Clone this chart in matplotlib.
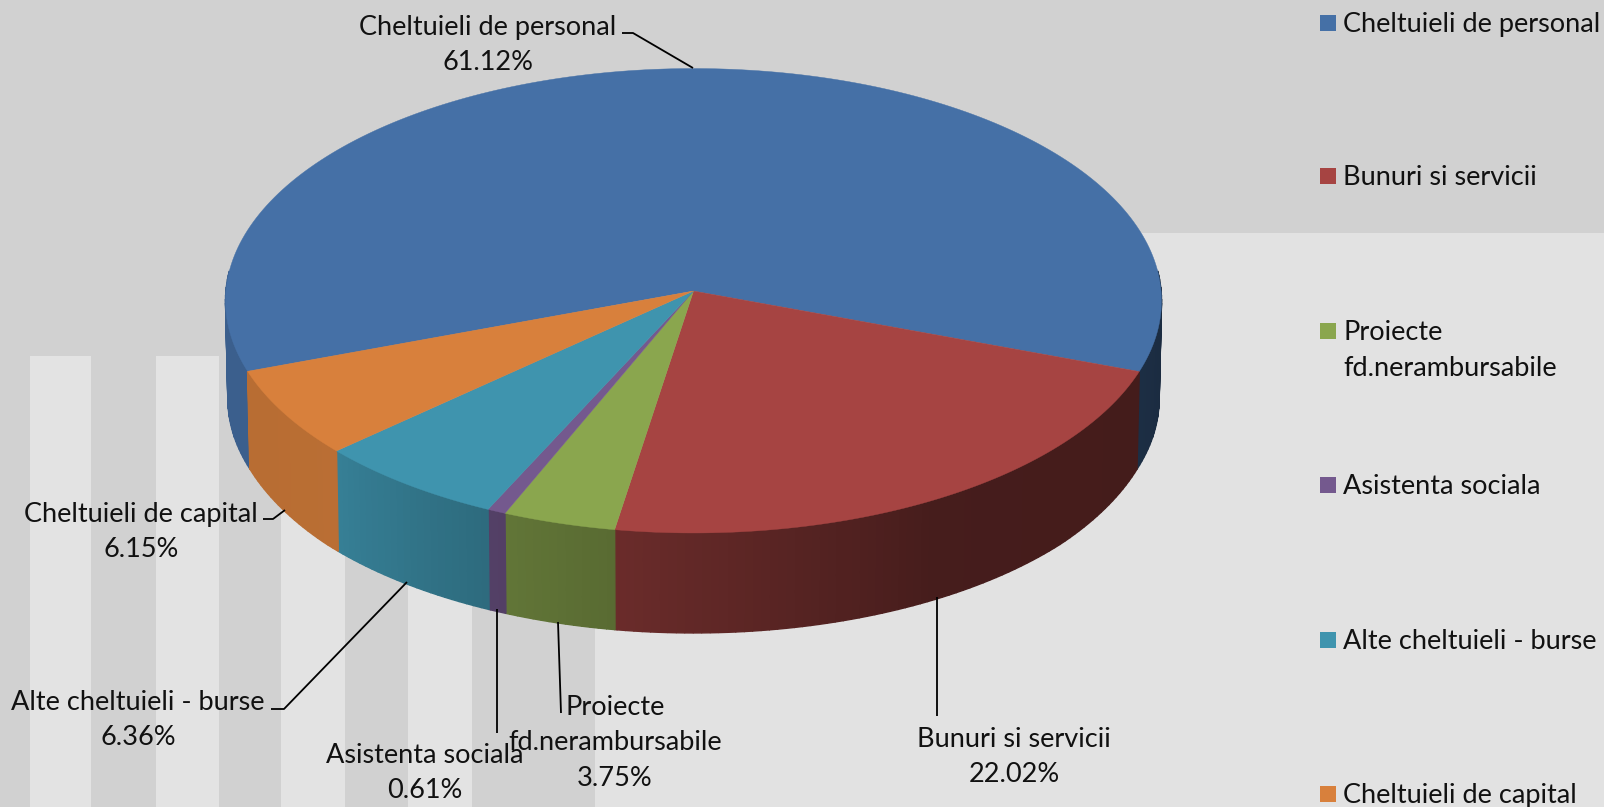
import matplotlib
matplotlib.use('Agg')
import matplotlib.pyplot as plt
from matplotlib.patches import Rectangle
import numpy as np

plt.rcParams['font.family'] = ['Lato', 'DejaVu Sans']

categories = ['Cheltuieli de personal', 'Bunuri si servicii', 'Proiecte\nfd.nerambursabile',
              'Asistenta sociala', 'Alte cheltuieli - burse', 'Cheltuieli de capital']
values = [61.12, 22.02, 3.75, 0.61, 6.36, 6.15]
colors = ['#4570a6', '#a64442', '#8aa64e', '#74598e', '#3f94ae', '#d8803c']

# layout, in pixels of the 1604x807 picture
cx, cy = 693.5, 291
rx, ry = 467.6, 231.8
persp = 0.042
depth = 98
start = -110
fsize = 19.5

label_pos = [(488, 45), (1014, 757), (615, 743), (425, 773), (138, 720), (141, 532)]
leaders = [
    ([622, 633, 693], [33, 33, 68]),
    ([937, 937], [597, 716]),
    ([558, 561], [622, 713]),
    ([497, 497], [609, 733]),
    ([271, 284, 407], [709, 709, 582]),
    ([263, 273, 285], [519, 519, 510]),
]
legend_y = [23, 176, 331, 485, 640, 794]
light_stripes = [(30, 91), (156, 219), (281, 345), (408, 472)]

# how dark the side wall gets going round the pie
shade_t = [90, 110, 150, 189, 205, 228, 250, 275]
shade_f = [0.38, 0.41, 0.42, 0.64, 0.72, 0.86, 0.85, 0.85]


def rim(t, scale=1.0, dy=0):
    t = np.radians(t)
    d = 1 + persp * np.cos(t)
    return cx + scale * rx * np.sin(t) / d, cy + dy - scale * ry * np.cos(t) / d


def base_rim(t):
    # the bottom edge sits a little lower towards the front
    extra = 3.2 * np.clip((-np.cos(np.radians(t)) - 0.34) / 0.3, 0, 1)
    return rim(t, 0.995, depth + extra)


fig = plt.figure(figsize=(16.04, 8.07), dpi=100, facecolor='#d1d1d1')
ax = fig.add_axes([0, 0, 1, 1])
ax.set_xlim(0, 1604)
ax.set_ylim(807, 0)
ax.axis('off')

# background
ax.add_patch(Rectangle((595, 233), 1009, 574, fc='#e2e2e2', ec='none', zorder=0))
ax.add_patch(Rectangle((0, 0), 1604, 233, fc='#d1d1d1', ec='none', zorder=0))
for x0, x1 in light_stripes:
    ax.add_patch(Rectangle((x0, 356), x1 - x0, 451, fc='#e3e3e3', ec='none', zorder=0))

edges = start + np.concatenate([[0], np.cumsum(values)]) * 3.6

# side wall, strip by strip
for i, col in enumerate(colors):
    rgb = np.array(matplotlib.colors.to_rgb(col))
    for a0, a1 in [(edges[i], edges[i + 1]), (edges[i] + 360, edges[i + 1] + 360)]:
        a0, a1 = max(a0, 85), min(a1, 275)
        if a1 <= a0:
            continue
        ts = np.arange(a0, a1 + 1, 1)
        ts[-1] = a1
        for t0, t1 in zip(ts[:-1], ts[1:]):
            x_top, y_top = rim(np.array([t0, t1]))
            x_bot, y_bot = base_rim(np.array([t1, t0]))
            f = np.interp((t0 + t1) / 2, shade_t, shade_f)
            ax.fill(np.r_[x_top, x_bot], np.r_[y_top, y_bot], color=rgb * f, lw=1, zorder=2)

# top face
for i, col in enumerate(colors):
    ts = np.linspace(edges[i], edges[i + 1], 200)
    x, y = rim(ts)
    ax.fill(np.r_[cx, x], np.r_[cy, y], color=col, lw=0.3, zorder=3)

# labels and leader lines
for name, val, pos, line in zip(categories, values, label_pos, leaders):
    ax.plot(line[0], line[1], color='black', lw=1.3, zorder=4, solid_capstyle='butt')
    ax.text(pos[0], pos[1], f'{name}\n{val:.2f}%', ha='center', va='center', fontsize=fsize,
            color='#111111', linespacing=1.53, zorder=5)

# legend
for name, col, y in zip(categories, colors, legend_y):
    ax.add_patch(Rectangle((1320, y - 8), 16, 16, fc=col, ec='none', zorder=4))
    ax.text(1343, y - 11, name, ha='left', va='top', fontsize=fsize, color='#111111',
            linespacing=1.53, zorder=5)

fig.savefig('out.png', dpi=100, facecolor=fig.get_facecolor())
